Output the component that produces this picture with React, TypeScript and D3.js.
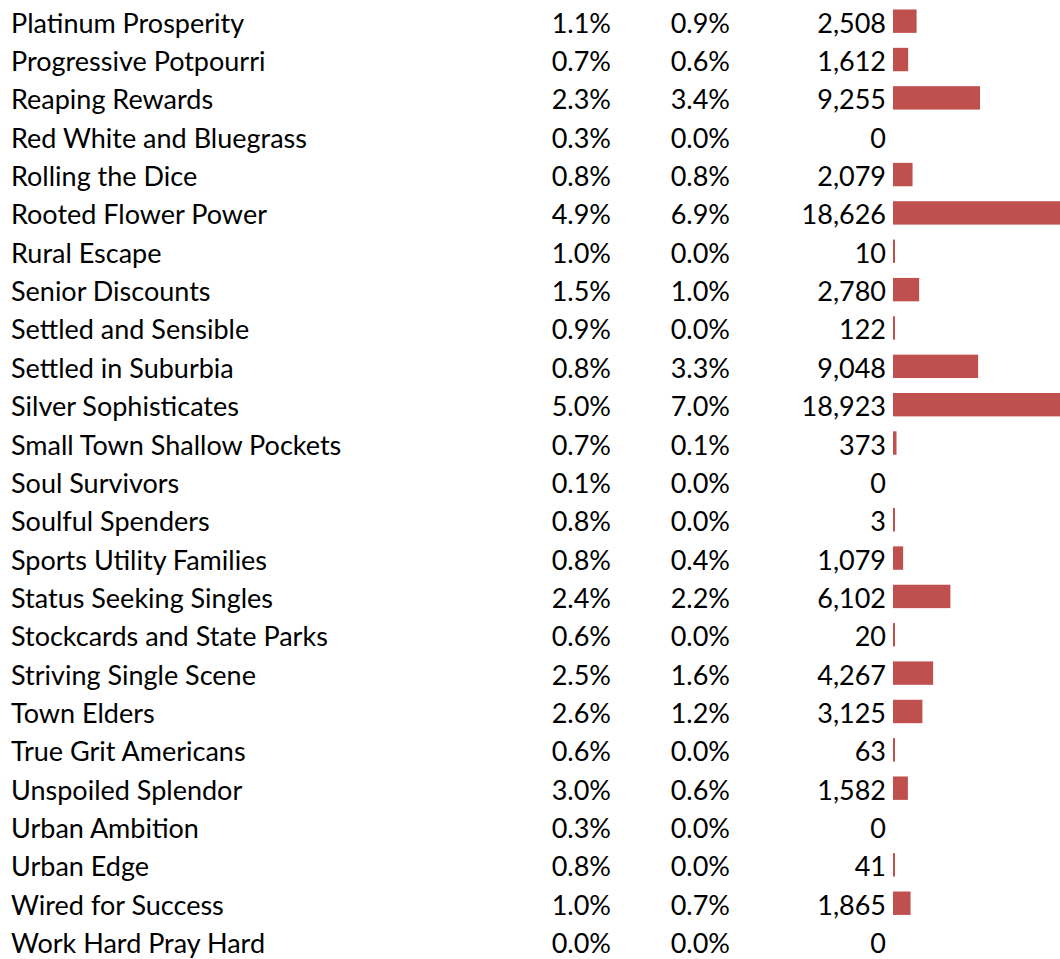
import { useEffect, useRef } from 'react'
import * as d3 from 'd3'

const segments = [
  'Platinum Prosperity',
  'Progressive Potpourri',
  'Reaping Rewards',
  'Red White and Bluegrass',
  'Rolling the Dice',
  'Rooted Flower Power',
  'Rural Escape',
  'Senior Discounts',
  'Settled and Sensible',
  'Settled in Suburbia',
  'Silver Sophisticates',
  'Small Town Shallow Pockets',
  'Soul Survivors',
  'Soulful Spenders',
  'Sports Utility Families',
  'Status Seeking Singles',
  'Stockcards and State Parks',
  'Striving Single Scene',
  'Town Elders',
  'True Grit Americans',
  'Unspoiled Splendor',
  'Urban Ambition',
  'Urban Edge',
  'Wired for Success',
  'Work Hard Pray Hard'
]

const basePct = [1.1, 0.7, 2.3, 0.3, 0.8, 4.9, 1.0, 1.5, 0.9, 0.8, 5.0, 0.7, 0.1, 0.8, 0.8, 2.4, 0.6, 2.5, 2.6, 0.6, 3.0, 0.3, 0.8, 1.0, 0.0]
const targetPct = [0.9, 0.6, 3.4, 0.0, 0.8, 6.9, 0.0, 1.0, 0.0, 3.3, 7.0, 0.1, 0.0, 0.0, 0.4, 2.2, 0.0, 1.6, 1.2, 0.0, 0.6, 0.0, 0.0, 0.7, 0.0]
const counts = [2508, 1612, 9255, 0, 2079, 18626, 10, 2780, 122, 9048, 18923, 373, 0, 3, 1079, 6102, 20, 4267, 3125, 63, 1582, 0, 41, 1865, 0]

const W = 1060
const H = 959
const FONT = 'Lato, "Open Sans", sans-serif'

export default function App() {
  const ref = useRef<SVGSVGElement | null>(null)

  useEffect(() => {
    if (!ref.current) return
    const svg = d3.select(ref.current)
    svg.selectAll('*').remove()

    // rows
    const y = d3.scaleBand<number>()
      .domain(d3.range(segments.length))
      .range([2, 2 + 38.35 * segments.length])
      .paddingInner(0.39)
      .paddingOuter(0.195)

    // data bars
    const x = d3.scaleLinear().domain([0, 18923]).range([0, 178])
    const barX = 893

    const fmtPct = (v: number) => v.toFixed(1) + '%'
    const fmtNum = d3.format(',')

    const rows = svg.selectAll('g.row')
      .data(segments.map((s, i) => ({ s, i })))
      .join('g')
      .attr('class', 'row')

    const baseline = (i: number) => (y(i) as number) + y.bandwidth() / 2 + 11.5

    const txt = (sel: any) => sel
      .attr('font-family', FONT)
      .attr('font-size', '27px')
      .attr('fill', '#000')

    rows.append('text').call(txt)
      .attr('x', 11)
      .attr('y', (d: any) => baseline(d.i))
      .text((d: any) => d.s)

    rows.append('text').call(txt)
      .attr('x', 611)
      .attr('y', (d: any) => baseline(d.i))
      .attr('text-anchor', 'end')
      .text((d: any) => fmtPct(basePct[d.i]))

    rows.append('text').call(txt)
      .attr('x', 730)
      .attr('y', (d: any) => baseline(d.i))
      .attr('text-anchor', 'end')
      .text((d: any) => fmtPct(targetPct[d.i]))

    rows.append('text').call(txt)
      .attr('x', 886)
      .attr('y', (d: any) => baseline(d.i))
      .attr('text-anchor', 'end')
      .text((d: any) => fmtNum(counts[d.i]))

    rows.filter((d: any) => counts[d.i] > 0)
      .append('rect')
      .attr('x', barX)
      .attr('y', (d: any) => y(d.i) as number)
      .attr('width', (d: any) => Math.max(2, x(counts[d.i])))
      .attr('height', y.bandwidth())
      .attr('fill', '#c0504d')
  }, [])

  return (
    <svg
      ref={ref}
      width={W}
      height={H}
      style={{ position: 'absolute', left: 0, top: 0, background: '#fff' }}
    />
  )
}
